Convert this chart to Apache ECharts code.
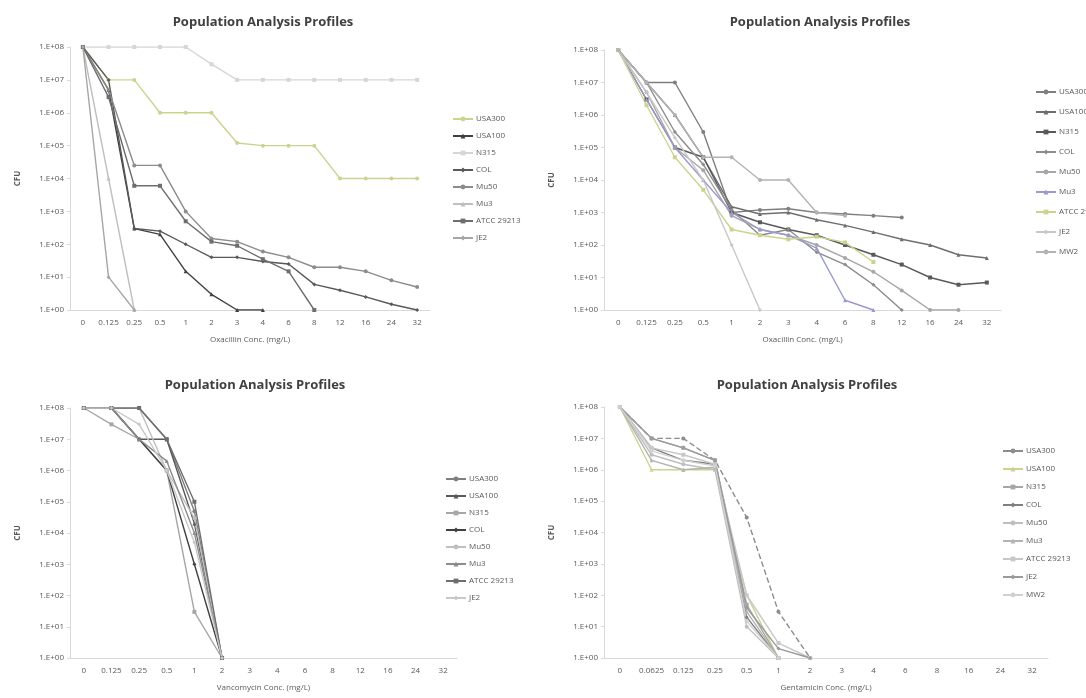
<!DOCTYPE html>
<html><head><meta charset="utf-8">
<script src="https://cdn.jsdelivr.net/npm/echarts@6/dist/echarts.min.js"></script>
<style>
html,body{margin:0;padding:0;background:#fff;width:1086px;height:698px;overflow:hidden}
.c{position:absolute}
</style></head><body>
<div id="c1" class="c" style="left:0;top:0;width:540px;height:349px"></div>
<div id="c2" class="c" style="left:540px;top:0;width:546px;height:349px"></div>
<div id="c3" class="c" style="left:0;top:349px;width:540px;height:349px"></div>
<div id="c4" class="c" style="left:540px;top:349px;width:546px;height:349px"></div>
<script>
// ---------- data ----------
const titleText = 'Population Analysis Profiles';
const yAxisTitle = 'CFU';
const cats1 = ['0','0.125','0.25','0.5','1','2','3','4','6','8','12','16','24','32'];
const cats2 = ['0','0.125','0.25','0.5','1','2','3','4','6','8','12','16','24','32'];
const cats3 = ['0','0.125','0.25','0.5','1','2','3','4','6','8','12','16','24','32'];
const cats4 = ['0','0.0625','0.125','0.25','0.5','1','2','3','4','6','8','16','24','32'];
const xTitle1 = 'Oxacillin Conc. (mg/L)';
const xTitle2 = 'Oxacillin Conc. (mg/L)';
const xTitle3 = 'Vancomycin Conc. (mg/L)';
const xTitle4 = 'Gentamicin Conc. (mg/L)';
const names8 = ['USA300','USA100','N315','COL','Mu50','Mu3','ATCC 29213','JE2'];
const names9 = ['USA300','USA100','N315','COL','Mu50','Mu3','ATCC 29213','JE2','MW2'];

// chart 1 series
const c1s1 = [1e8, 1e7, 1e7, 1e6, 1e6, 1e6, 1.2e5, 1e5, 1e5, 1e5, 1e4, 1e4, 1e4, 1e4];
const c1s2 = [1e8, 5e6, 300, 200, 15, 3, 1, 1, null, null, null, null, null, null];
const c1s3 = [1e8, 1e8, 1e8, 1e8, 1e8, 3e7, 1e7, 1e7, 1e7, 1e7, 1e7, 1e7, 1e7, 1e7];
const c1s4 = [1e8, 1e7, 300, 250, 100, 40, 40, 30, 25, 6, 4, 2.5, 1.5, 1];
const c1s5 = [1e8, 5e6, 2.5e4, 2.5e4, 1e3, 150, 120, 60, 40, 20, 20, 15, 8, 5];
const c1s6 = [1e8, 1e4, 1, null, null, null, null, null, null, null, null, null, null, null];
const c1s7 = [1e8, 3e6, 6e3, 6e3, 500, 120, 90, 35, 15, 1, null, null, null, null];
const c1s8 = [1e8, 10, 1, null, null, null, null, null, null, null, null, null, null, null];

// chart 2 series
const c2s1 = [1e8, 1e7, 1e7, 3e5, 1e3, 1.2e3, 1.3e3, 1e3, 9e2, 8e2, 7e2, null, null, null];
const c2s2 = [1e8, 1e7, 1e6, 5e4, 1.5e3, 9e2, 1e3, 6e2, 4e2, 2.5e2, 1.5e2, 1e2, 5e1, 4e1];
const c2s3 = [1e8, 3e6, 1e5, 5e4, 1e3, 5e2, 3e2, 2e2, 1e2, 5e1, 2.5e1, 1e1, 6, 7];
const c2s4 = [1e8, 1e7, 3e5, 3e4, 1.2e3, 2e2, 3e2, 6e1, 2.5e1, 6, 1, null, null, null];
const c2s5 = [1e8, 5e6, 1e5, 2e4, 8e2, 3e2, 2e2, 1e2, 4e1, 1.5e1, 4, 1, 1, null];
const c2s6 = [1e8, 3e6, 1e5, 1e4, 1e3, 3e2, 2e2, 8e1, 2, 1, null, null, null, null];
const c2s7 = [1e8, 2e6, 5e4, 5e3, 3e2, 2e2, 1.5e2, 1.8e2, 1.2e2, 3e1, null, null, null, null];
const c2s8 = [1e8, 5e6, 2e5, 1e4, 1e2, 1, null, null, null, null, null, null, null, null];
const c2s9 = [1e8, 1e7, 1e6, 5e4, 5e4, 1e4, 1e4, 1e3, 8e2, null, null, null, null, null];

// chart 3 series
const c3s1 = [1e8, 1e8, 1e8, 1e7, 5e4, 1];
const c3s2 = [1e8, 1e8, 1e7, 1e7, 2e4, 1];
const c3s3 = [1e8, 3e7, 1e7, 1e6, 30, 1];
const c3s4 = [1e8, 1e8, 1e7, 1e6, 1e3, 1];
const c3s5 = [1e8, 1e8, 1e8, 1e6, 3e4, 1];
const c3s6 = [1e8, 1e8, 1e7, 2e6, 1e4, 1];
const c3s7 = [1e8, 1e8, 1e8, 1e7, 1e5, 1];
const c3s8 = [1e8, 1e8, 3e7, 1e6, 5e3, 1];

// chart 4 series
const c4s1 = [1e8, 1e7, 1e7, 2e6, 3e4, 30, 1];
const c4s2 = [1e8, 1e6, 1e6, 1e6, 100, 1];
const c4s3 = [1e8, 1e7, 5e6, 2e6, 50, 1];
const c4s4 = [1e8, 5e6, 2e6, 1.5e6, 20, 1];
const c4s5 = [1e8, 3e6, 1.5e6, 1e6, 10, 1];
const c4s6 = [1e8, 2e6, 1e6, 1.2e6, 30, 1];
const c4s7 = [1e8, 5e6, 3e6, 1.5e6, 1e2, 3, 1];
const c4s8 = [1e8, 1e7, 5e6, 2e6, 40, 2, 1];
const c4s9 = [1e8, 4e6, 2e6, 1.3e6, 15, 1];

// ---------- styles ----------
const FONT = 'Open Sans';
const symbols = ['circle','triangle','rect','diamond','circle','triangle','rect','diamond','circle'];

function yLabel(v){
  const e = Math.round(Math.log10(v));
  return '1.E+' + (e < 10 ? '0' : '') + e;
}

function build(id, cats, xTitle, seriesData, names, colors, dashedIdx, g, lg){
  const chart = echarts.init(document.getElementById(id));
  const series = seriesData.map((d, i) => ({
    name: names[i], type: 'line', data: d,
    symbol: symbols[i % symbols.length], symbolSize: 4,
    connectNulls: false,
    lineStyle: {width: 1.4, color: colors[i], type: dashedIdx.includes(i) ? 'dashed' : 'solid'},
    itemStyle: {color: colors[i]},
    emphasis: {disabled: true}
  }));
  chart.setOption({
    animation: false,
    backgroundColor: '#fff',
    title: {text: titleText, left: g.titleX, top: g.titleY, textAlign: 'center',
      textStyle: {fontFamily: FONT, fontSize: 13, fontWeight: 'bold', color: '#404040'}},
    legend: {orient: 'vertical', left: lg.left, top: lg.top, itemGap: lg.gap,
      itemWidth: 20, itemHeight: 6,
      textStyle: {fontFamily: FONT, fontSize: 8, color: '#595959', padding: [0,0,0,-2]}, data: names},
    grid: {left: g.left, right: g.right, top: g.top, bottom: g.bottom},
    xAxis: {type: 'category', data: cats, boundaryGap: true,
      name: xTitle, nameLocation: 'middle', nameGap: 26,
      nameTextStyle: {fontFamily: FONT, fontSize: 8, color: '#595959'},
      axisLine: {lineStyle: {color: '#d9d9d9'}},
      axisTick: {show: false},
      axisLabel: {fontFamily: FONT, fontSize: 8, color: '#595959', interval: 0, margin: 9}},
    yAxis: {type: 'log', logBase: 10, min: 1, max: 1e8, interval: 1,
      name: yAxisTitle, nameLocation: 'middle', nameGap: 48, nameRotate: 90,
      nameTextStyle: {fontFamily: FONT, fontSize: 8, fontWeight: 'bold', color: '#595959'},
      axisLine: {show: true, lineStyle: {color: '#d9d9d9'}},
      axisTick: {show: true, length: 3, lineStyle: {color: '#d9d9d9'}},
      splitLine: {show: false},
      axisLabel: {fontFamily: FONT, fontSize: 8, color: '#595959', formatter: yLabel, margin: 6}},
    series: series
  });
}

build('c1', cats1, xTitle1, [c1s1,c1s2,c1s3,c1s4,c1s5,c1s6,c1s7,c1s8], names8,
  ['#cdd38f','#404040','#d6d6d6','#595959','#8c8c8c','#bfbfbf','#6e6e6e','#a6a6a6'], [],
  {left: 70, right: 110, top: 47, bottom: 37, titleX: 258, titleY: 11},
  {left: 447, top: 110, gap: 9});

build('c2', cats2, xTitle2, [c2s1,c2s2,c2s3,c2s4,c2s5,c2s6,c2s7,c2s8,c2s9], names9,
  ['#7f7f7f','#6e6e6e','#595959','#8c8c8c','#a6a6a6','#9a9ad0','#cdd38f','#c8c8c8','#b3b3b3'], [],
  {left: 64, right: 85, top: 50, bottom: 37, titleX: 275, titleY: 11},
  {left: 490, top: 83, gap: 12});

build('c3', cats3, xTitle3, [c3s1,c3s2,c3s3,c3s4,c3s5,c3s6,c3s7,c3s8], names8,
  ['#7f7f7f','#595959','#a6a6a6','#404040','#bfbfbf','#8c8c8c','#6e6e6e','#c8c8c8'], [],
  {left: 70, right: 83, top: 59, bottom: 40, titleX: 250, titleY: 25},
  {left: 440, top: 121, gap: 9});

build('c4', cats4, xTitle4, [c4s1,c4s2,c4s3,c4s4,c4s5,c4s6,c4s7,c4s8,c4s9], names9,
  ['#8c8c8c','#cdd38f','#a6a6a6','#7f7f7f','#bfbfbf','#b3b3b3','#c8c8c8','#9a9a9a','#d0d0d0'], [0],
  {left: 62, right: 38, top: 58, bottom: 40, titleX: 262, titleY: 25},
  {left: 457, top: 93, gap: 10});
</script>
</body></html>
